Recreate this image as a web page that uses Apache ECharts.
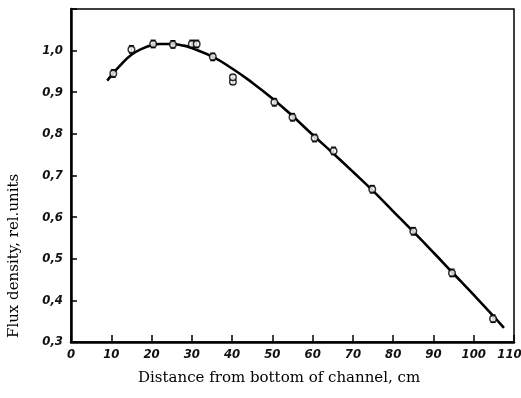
<!DOCTYPE html>
<html>
<head>
<meta charset="utf-8">
<script src="https://cdn.jsdelivr.net/npm/echarts@6/dist/echarts.min.js"></script>
<style>html,body{margin:0;padding:0;background:#fff}#c{width:521px;height:398px}</style>
</head>
<body>
<div id="c"></div>
<script>
// measured points (distance cm, flux density rel. units)
var pointX = [10.5, 15, 20.4, 25.3, 30, 31.2, 35.2, 40.2, 40.2, 50.5, 55, 60.5, 65.2, 74.8, 85, 94.6, 104.8];
var pointY = [0.945, 1.003, 1.016, 1.015, 1.016, 1.016, 0.985, 0.925, 0.936, 0.876, 0.840, 0.790, 0.759, 0.667, 0.566, 0.466, 0.356];
var pointErr = [0.009, 0.009, 0.009, 0.009, 0.009, 0.009, 0.009, 0.006, 0.006, 0.009, 0.009, 0.009, 0.009, 0.009, 0.009, 0.009, 0.009];
// fitted curve
var curveX = [9, 10, 12, 15, 18, 20, 22, 25, 28, 30, 35, 40, 45, 50, 55, 60, 65, 70, 75, 80, 85, 90, 95, 100, 105, 107.5];
var curveY = [0.928, 0.94, 0.962, 0.99, 1.006, 1.013, 1.016, 1.016, 1.012, 1.006, 0.986, 0.957, 0.923, 0.885, 0.843, 0.798, 0.754, 0.709, 0.663, 0.614, 0.565, 0.515, 0.464, 0.413, 0.361, 0.334];
var xTicks = [0, 10, 20, 30, 40, 50, 60, 70, 80, 90, 100, 110];
var yTicks = [0.3, 0.4, 0.5, 0.6, 0.7, 0.8, 0.9, 1.0];
var xTitle = 'Distance from bottom of channel, cm';
var yTitle = 'Flux density, rel.units';

var pts = pointX.map(function (x, i) { return [x, pointY[i]]; });
var errs = pointX.map(function (x, i) { return [x, pointY[i] - pointErr[i], pointY[i] + pointErr[i]]; });
var curve = curveX.map(function (x, i) { return [x, curveY[i]]; });

var tickFont = {
  fontFamily: 'Liberation Sans Narrow, DejaVu Sans Condensed, Liberation Sans, sans-serif',
  fontStyle: 'italic', fontWeight: 'bold', fontSize: 13, color: '#111'
};
var lastRich = Object.assign({padding: [0, 9, 0, 0]}, tickFont);

var chart = echarts.init(document.getElementById('c'), null, {renderer: 'canvas'});
chart.setOption({
  animation: false,
  backgroundColor: '#fff',
  grid: {left: 71, right: 7, top: 9, bottom: 56, containLabel: false, outerBoundsMode: 'none',
    show: true, borderColor: '#000', borderWidth: 1.5, backgroundColor: 'transparent'},
  xAxis: {
    type: 'value', min: 0, max: 110, interval: 10,
    axisLine: {show: true, lineStyle: {color: '#000', width: 2.5}},
    axisTick: {show: true, inside: true, length: 7, lineStyle: {color: '#000', width: 1.5}},
    splitLine: {show: false},
    axisLabel: Object.assign({margin: 6, showMaxLabel: true, showMinLabel: true,
      rich: {last: lastRich},
      formatter: function (v) {
        if (xTicks.indexOf(v) < 0) return '';
        return v === xTicks[xTicks.length - 1] ? '{last|' + v + '}' : String(v);
      }}, tickFont)
  },
  yAxis: {
    type: 'value', min: 0.3, max: 1.1, interval: 0.1,
    axisLine: {show: true, lineStyle: {color: '#000', width: 2.5}},
    axisTick: {show: true, inside: true, length: 6, lineStyle: {color: '#000', width: 1.5}},
    splitLine: {show: false},
    axisLabel: Object.assign({margin: 8, formatter: function (v) {
      var r = Math.round(v * 10) / 10;
      return yTicks.indexOf(r) >= 0 ? r.toFixed(1).replace('.', ',') : '';
    }}, tickFont)
  },
  series: [
    {
      type: 'line', data: curve, smooth: true, showSymbol: false, symbol: 'none',
      lineStyle: {color: '#000', width: 2.6}, z: 2
    },
    {
      type: 'custom', data: errs, z: 3,
      renderItem: function (params, api) {
        var top = api.coord([api.value(0), api.value(2)]);
        var bot = api.coord([api.value(0), api.value(1)]);
        var w = 2.5;
        var st = {stroke: '#000', lineWidth: 1.3};
        return {type: 'group', children: [
          {type: 'line', shape: {x1: top[0], y1: top[1], x2: bot[0], y2: bot[1]}, style: st},
          {type: 'line', shape: {x1: top[0] - w, y1: top[1], x2: top[0] + w, y2: top[1]}, style: st},
          {type: 'line', shape: {x1: bot[0] - w, y1: bot[1], x2: bot[0] + w, y2: bot[1]}, style: st}
        ]};
      }
    },
    {
      type: 'scatter', data: pts, symbol: 'circle', symbolSize: 6.5, z: 4,
      itemStyle: {color: '#fff', borderColor: '#000', borderWidth: 1.5}
    }
  ],
  graphic: [
    {type: 'text', left: 138, top: 371, style: {text: xTitle, font: '15px "DejaVu Serif", "Liberation Serif", serif', fill: '#000'}},
    {type: 'text', x: 7, y: 338, rotation: Math.PI / 2, style: {text: yTitle, font: '15px "DejaVu Serif", "Liberation Serif", serif', fill: '#000'}}
  ]
});
</script>
</body>
</html>
